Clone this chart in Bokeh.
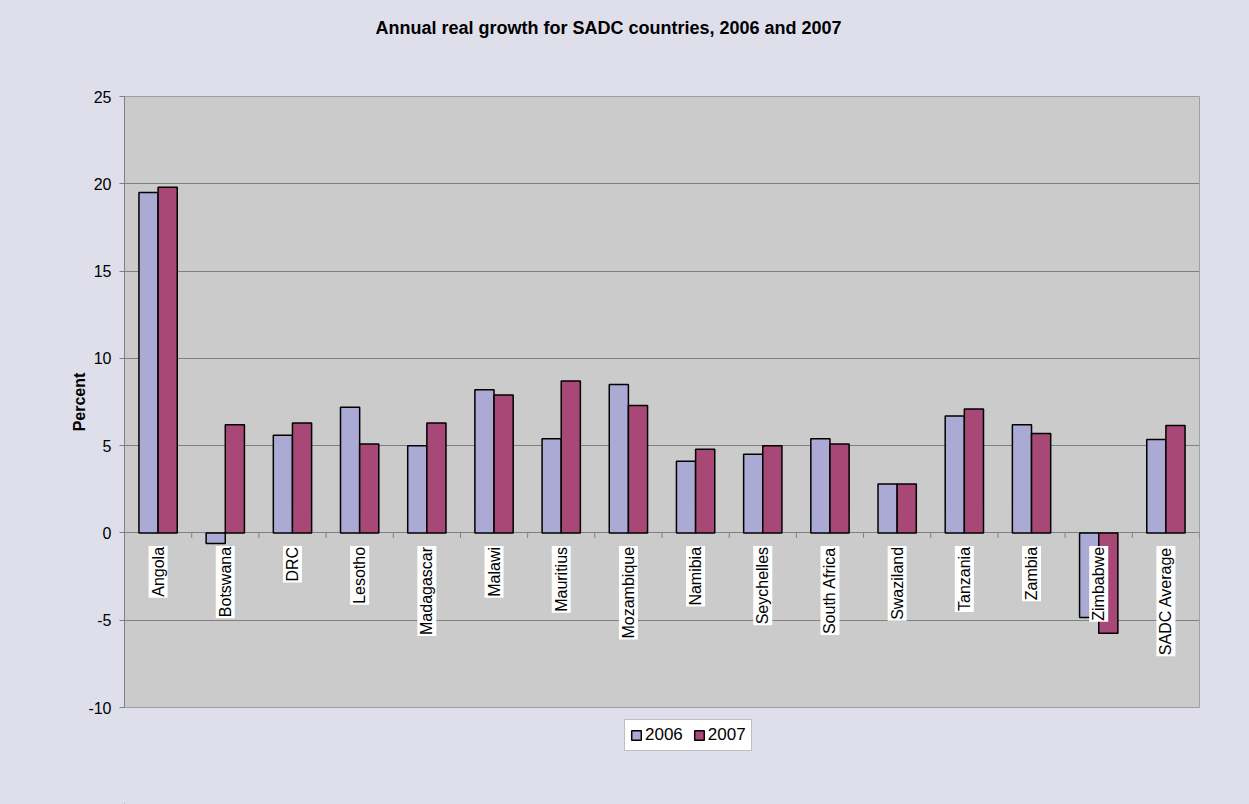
import numpy as np
from bokeh.plotting import figure
from bokeh.layouts import column
from bokeh.models import Range1d, FixedTicker, ColumnDataSource, Legend, LegendItem, Title
from bokeh.core.properties import value
from bokeh.embed import file_html
from bokeh.resources import INLINE

countries = ["Angola", "Botswana", "DRC", "Lesotho", "Madagascar", "Malawi",
             "Mauritius", "Mozambique", "Namibia", "Seychelles", "South Africa",
             "Swaziland", "Tanzania", "Zambia", "Zimbabwe", "SADC Average"]
growth_2006 = [19.5, -0.6, 5.6, 7.2, 5.0, 8.2, 5.4, 8.5, 4.1, 4.5, 5.4, 2.8, 6.7, 6.2, -4.85, 5.35]
growth_2007 = [19.8, 6.2, 6.3, 5.1, 6.3, 7.9, 8.7, 7.3, 4.8, 5.0, 5.1, 2.8, 7.1, 5.7, -5.75, 6.15]
series_names = ["2006", "2007"]
y_ticks = [-10, -5, 0, 5, 10, 15, 20, 25]
y_tick_labels = ["-10", "-5", "0", "5", "10", "15", "20", "25"]
title_text = "Annual real growth for SADC countries, 2006 and 2007"

FONT = "Liberation Sans"
BG = "#DFDFEB"
PLOT_BG = "#CBCBCB"
GRID = "#808080"
C2006 = "#AAAAD5"
C2007 = "#A84876"

n = len(countries)
centers = np.arange(n) + 0.5
bw = 0.285

FRAME_H = 611
p = figure(width=1249, height=715, output_backend="svg", toolbar_location=None,
           x_range=Range1d(0, n), y_range=Range1d(min(y_ticks), max(y_ticks)),
           x_axis_location=None, title=None)
p.min_border_left = 124
p.min_border_right = 50
p.min_border_top = 96
p.min_border_bottom = 8
p.border_fill_color = BG
p.background_fill_color = PLOT_BG
p.outline_line_color = "#A0A0A0"
p.outline_line_width = 1

# spacer (nearest the frame) then the title above it
p.add_layout(Title(text=" ", text_font_size="1px", standoff=56), "above")
p.add_layout(Title(text=title_text, text_font=FONT, text_font_size="18px",
                   text_font_style="bold", text_color="black", align="left",
                   offset=251, standoff=0), "above")

p.xgrid.visible = False
p.ygrid.grid_line_color = GRID
p.ygrid.grid_line_width = 1

ya = p.yaxis[0]
ya.ticker = FixedTicker(ticks=y_ticks)
ya.major_label_overrides = dict(zip(y_ticks, y_tick_labels))
ya.axis_line_color = GRID
ya.major_tick_line_color = GRID
ya.major_tick_out = 5
ya.major_tick_in = 0
ya.minor_tick_line_color = None
ya.major_label_text_font = FONT
ya.major_label_text_font_size = "16px"
ya.major_label_text_color = "black"
ya.major_label_standoff = 8
ya.axis_label = "Percent"
ya.axis_label_text_font = FONT
ya.axis_label_text_font_size = "16px"
ya.axis_label_text_font_style = "bold"
ya.axis_label_text_color = "black"
ya.axis_label_standoff = -3

# category boundary ticks on the zero line
bounds = np.arange(n + 1)
tick_len = 5 * (max(y_ticks) - min(y_ticks)) / FRAME_H
p.segment(x0=bounds, x1=bounds, y0=0, y1=-tick_len, line_color=GRID, line_width=1)

src = ColumnDataSource(dict(x=centers, x06=centers - bw / 2, x07=centers + bw / 2,
                            v06=growth_2006, v07=growth_2007, name=countries))
p.vbar(x="x06", width=bw, bottom=0, top="v06", source=src,
       fill_color=C2006, line_color="black", line_width=1.5)
p.vbar(x="x07", width=bw, bottom=0, top="v07", source=src,
       fill_color=C2007, line_color="black", line_width=1.5)

p.text(x="x", y=0, text="name", source=src, angle=np.pi / 2,
       text_align="right", text_baseline="middle", y_offset=13,
       text_font=value(FONT), text_font_size=value("16px"), text_color="black",
       background_fill_color="white", padding=1)

# legend strip below the chart (its frame is aligned with the main frame)
lf = figure(width=1249, height=89, output_backend="svg", toolbar_location=None,
            x_range=Range1d(0, 1), y_range=Range1d(0, 1),
            x_axis_location=None, y_axis_location=None, title=None)
lf.min_border_left = lf.min_border_right = lf.min_border_top = lf.min_border_bottom = 0
lf.border_fill_color = BG
lf.background_fill_color = BG
lf.outline_line_color = None
lf.grid.visible = False
lf.styles = {"background-color": BG}
# swatch renderers kept outside the visible range; only their legend glyphs show
swatch = ColumnDataSource(dict(x=[-5], top=[-5]))
g06 = lf.vbar(x="x", top="top", bottom=-6, width=0.1, source=swatch,
              fill_color=C2006, line_color="black", line_width=1.5)
g07 = lf.vbar(x="x", top="top", bottom=-6, width=0.1, source=swatch,
              fill_color=C2007, line_color="black", line_width=1.5)
legend = Legend(items=[LegendItem(label=series_names[0], renderers=[g06]),
                       LegendItem(label=series_names[1], renderers=[g07])],
                orientation="horizontal", location=(500, 53), margin=0,
                padding=5, spacing=10, label_standoff=3,
                glyph_width=12, glyph_height=12, label_height=16,
                label_text_font=FONT, label_text_font_size="17px",
                label_text_color="black",
                border_line_color="#808080", border_line_width=1,
                background_fill_color="white", background_fill_alpha=1)
lf.add_layout(legend, "center")

layout = column(p, lf, spacing=0, styles={"background-color": BG})
html = file_html(layout, INLINE)
html = html.replace("<body>", '<body style="margin:0;background-color:%s;">' % BG, 1)
open("out.html", "w").write(html)
